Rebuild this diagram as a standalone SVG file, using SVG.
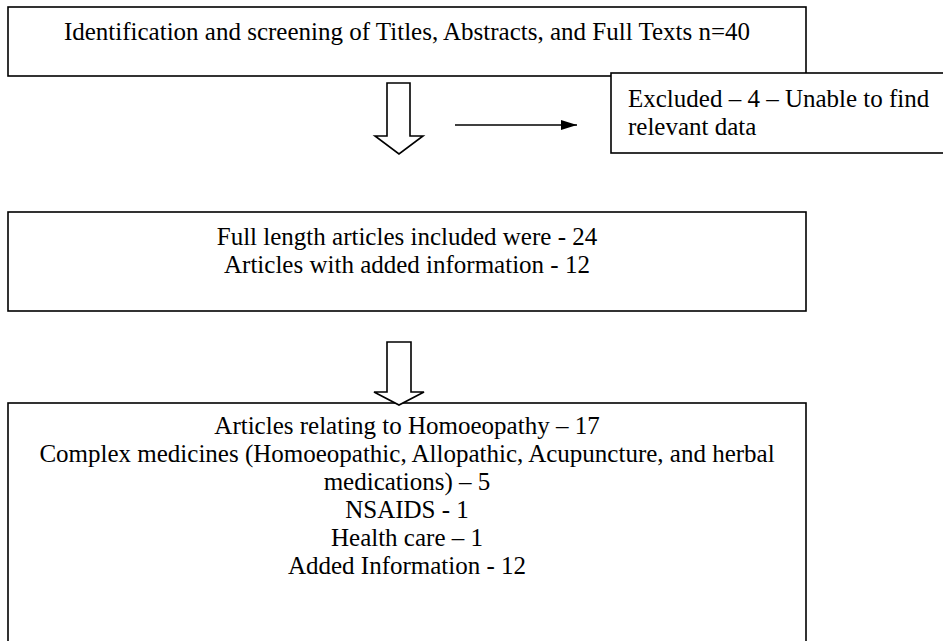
<svg xmlns="http://www.w3.org/2000/svg" width="943" height="641" viewBox="0 0 943 641">
<defs>
<style>
.box{fill:#fff;stroke:#000;stroke-width:1.6}
.t{font-family:"Liberation Serif","Times New Roman",serif;font-size:25px;fill:#000}
.c{text-anchor:middle}
.blk{fill:#fff;stroke:#000;stroke-width:1.6;stroke-linejoin:miter}
</style>
<marker id="ah" viewBox="0 0 16 10" refX="16" refY="5" markerWidth="16" markerHeight="10" markerUnits="userSpaceOnUse" orient="auto"><path d="M0,0 L16,5 L0,10 z" fill="#000"/></marker>
</defs>
<rect width="943" height="641" fill="#fff"/>
<g id="n1">
<rect class="box" x="8" y="7" width="798" height="69"/>
<text class="t c" x="407" y="40">Identification and screening of Titles, Abstracts, and Full Texts n=40</text>
</g>
<g id="n2">
<rect class="box" x="611" y="73" width="340" height="80"/>
<text class="t" x="628" y="107">Excluded – 4 – Unable to find</text>
<text class="t" x="628" y="135">relevant data</text>
</g>
<g id="n3">
<rect class="box" x="8" y="212" width="798" height="99"/>
<text class="t c" x="407" y="245">Full length articles included were - 24</text>
<text class="t c" x="407" y="273">Articles with added information - 12</text>
</g>
<g id="n4">
<rect class="box" x="8" y="403" width="798" height="250"/>
<text class="t c" x="407" y="434">Articles relating to Homoeopathy – 17</text>
<text class="t c" x="407" y="462">Complex medicines (Homoeopathic, Allopathic, Acupuncture, and herbal</text>
<text class="t c" x="407" y="490">medications) – 5</text>
<text class="t c" x="407" y="518">NSAIDS - 1</text>
<text class="t c" x="407" y="546">Health care – 1</text>
<text class="t c" x="407" y="574">Added Information - 12</text>
</g>
<g id="connectors">
<path class="blk" d="M387,83 H410 V136 H423 L399,154 L375,136 H387 Z"/>
<path class="blk" d="M387,342 H411 V392 H424 L399,405 L374,392 H387 Z"/>
<line x1="455" y1="125" x2="577" y2="125" stroke="#000" stroke-width="1.6" marker-end="url(#ah)"/>
</g>
</svg>
